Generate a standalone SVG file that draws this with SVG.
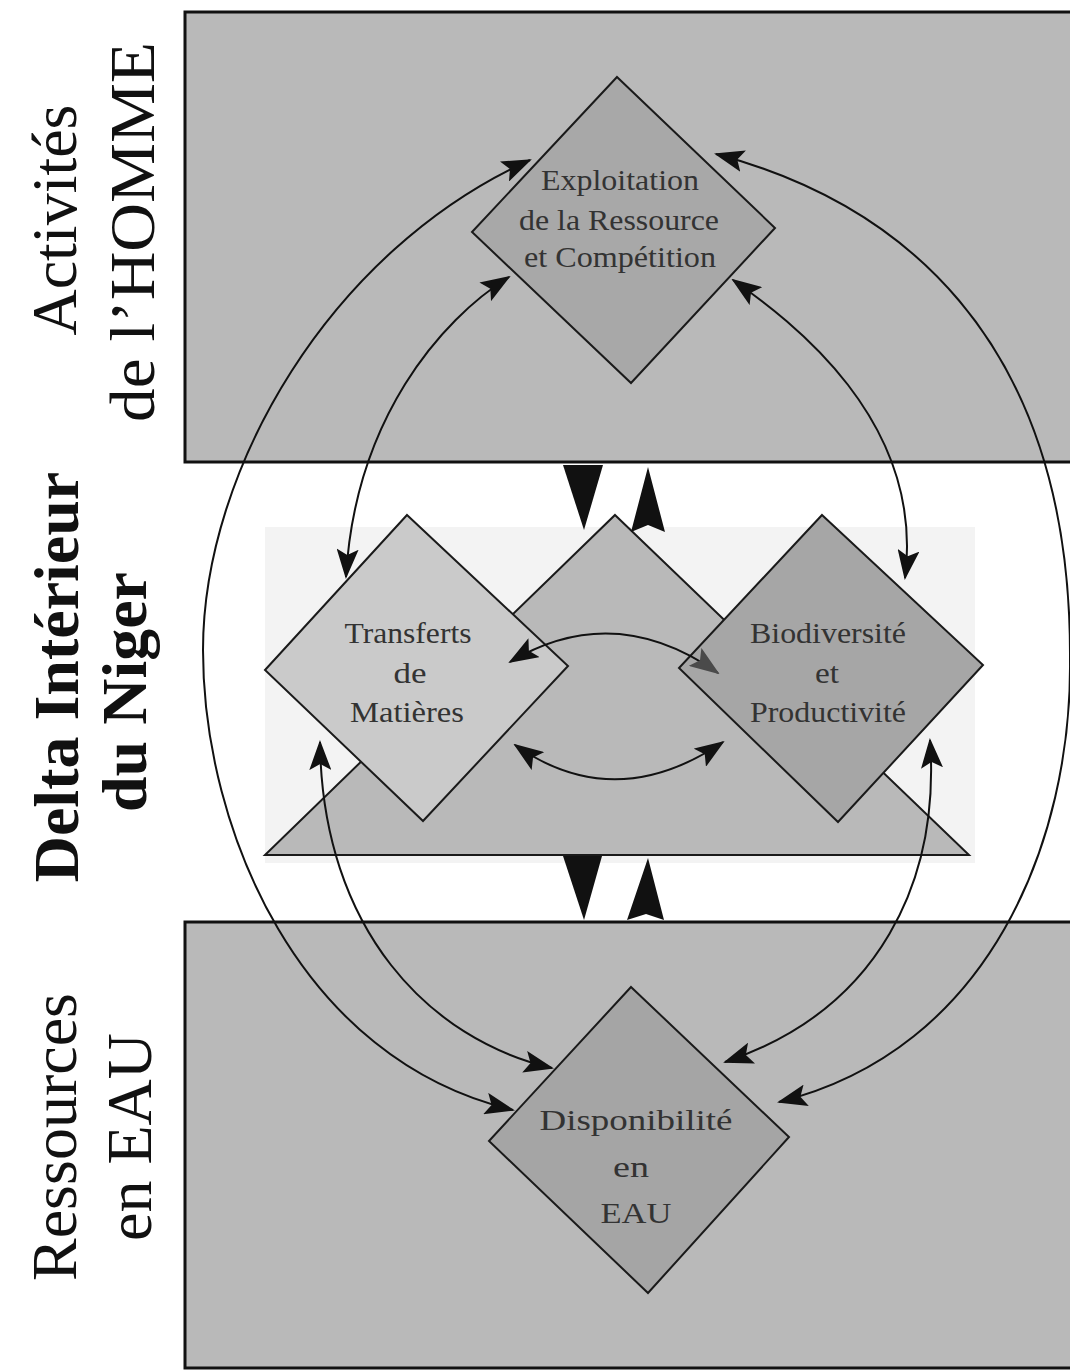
<svg xmlns="http://www.w3.org/2000/svg" width="1070" height="1372" viewBox="0 0 1070 1372">
<defs>
<marker id="ah" viewBox="0 0 30 22" refX="28" refY="11" markerWidth="30" markerHeight="22" markerUnits="userSpaceOnUse" orient="auto-start-reverse">
<path d="M0,0 L30,11 L0,22 L6,11 z" fill="#111"/>
</marker>
<marker id="ahg" viewBox="0 0 30 22" refX="28" refY="11" markerWidth="30" markerHeight="22" markerUnits="userSpaceOnUse" orient="auto-start-reverse">
<path d="M0,0 L30,11 L0,22 L6,11 z" fill="#4a4a4a"/>
</marker>
<style>
.panel{fill:#b9b9b9;stroke:#111;stroke-width:3}
.dia{stroke:#1a1a1a;stroke-width:2}
.lbl{font-family:"Liberation Serif","Times New Roman",serif;font-size:64px;fill:#111;text-anchor:middle}
.bold{font-weight:bold}
.nt{font-family:"Liberation Serif","Times New Roman",serif;font-size:30px;fill:#333;text-anchor:middle}
.con{fill:none;stroke:#111;stroke-width:2}
.big{fill:#111}
</style>
</defs>
<rect width="1070" height="1372" fill="#ffffff"/>

<g id="labels">
<text class="lbl" transform="translate(76,220) rotate(-90)">Activités</text>
<text class="lbl" transform="translate(154,232) rotate(-90)" textLength="380" lengthAdjust="spacingAndGlyphs">de l’HOMME</text>
<text class="lbl bold" transform="translate(78,677) rotate(-90)">Delta Intérieur</text>
<text class="lbl bold" transform="translate(146,692) rotate(-90)">du Niger</text>
<text class="lbl" transform="translate(76,1137) rotate(-90)">Ressources</text>
<text class="lbl" transform="translate(151,1137) rotate(-90)">en EAU</text>
</g>

<g id="panel-homme"><rect class="panel" x="185" y="12" width="900" height="450"/></g>
<g id="panel-eau"><rect class="panel" x="185" y="922" width="900" height="446"/></g>
<g id="panel-delta"><rect x="265" y="527" width="710" height="336" fill="#f3f3f3"/></g>

<g id="node-delta-triangle">
<polygon class="dia" points="615,515 969,855 265,855" fill="#b9b9b9"/>
</g>

<g id="node-exploitation">
<polygon class="dia" points="617,77 775,228 631,383 472,232" fill="#a8a8a8"/>
<text class="nt" x="620" y="190" textLength="158" lengthAdjust="spacingAndGlyphs" fill="#444">Exploitation</text>
<text class="nt" x="619" y="230" textLength="200" lengthAdjust="spacingAndGlyphs">de la Ressource</text>
<text class="nt" x="620" y="267" textLength="192" lengthAdjust="spacingAndGlyphs">et Compétition</text>
</g>

<g id="node-transferts">
<polygon class="dia" points="407,515 568,666 423,821 265,670" fill="#cacaca"/>
<text class="nt" x="408" y="643" textLength="127" lengthAdjust="spacingAndGlyphs">Transferts</text>
<text class="nt" x="410" y="683" textLength="33" lengthAdjust="spacingAndGlyphs">de</text>
<text class="nt" x="407" y="722" textLength="114" lengthAdjust="spacingAndGlyphs">Matières</text>
</g>

<g id="node-biodiversite">
<polygon class="dia" points="822,515 983,665 838,822 679,668" fill="#a6a6a6"/>
<text class="nt" x="828" y="643" textLength="156" lengthAdjust="spacingAndGlyphs">Biodiversité</text>
<text class="nt" x="827" y="683" textLength="24" lengthAdjust="spacingAndGlyphs">et</text>
<text class="nt" x="828" y="722" textLength="156" lengthAdjust="spacingAndGlyphs">Productivité</text>
</g>

<g id="node-disponibilite">
<polygon class="dia" points="631,987 789,1137 648,1293 489,1141" fill="#a5a5a5"/>
<text class="nt" x="636" y="1130" textLength="193" lengthAdjust="spacingAndGlyphs" fill="#222">Disponibilité</text>
<text class="nt" x="631" y="1177" textLength="36" lengthAdjust="spacingAndGlyphs" fill="#222">en</text>
<text class="nt" x="636" y="1223" textLength="71" lengthAdjust="spacingAndGlyphs" fill="#222">EAU</text>
</g>

<g id="connectors">
<path class="con" d="M530,160 C330,250 203,470 203,650 C203,830 300,1060 513,1110" marker-start="url(#ah)" marker-end="url(#ah)"/>
<path class="con" d="M509,277 C440,320 355,420 346,577" marker-start="url(#ah)" marker-end="url(#ah)"/>
<path class="con" d="M320,742 C322,930 430,1040 552,1068" marker-start="url(#ah)" marker-end="url(#ah)"/>
<path class="con" d="M716,154 C890,200 1072,330 1070,660 C1072,840 990,1050 779,1102" marker-start="url(#ah)" marker-end="url(#ah)"/>
<path class="con" d="M733,280 C790,320 925,420 905,578" marker-start="url(#ah)" marker-end="url(#ah)"/>
<path class="con" d="M930,740 C940,880 880,1010 725,1062" marker-start="url(#ah)" marker-end="url(#ah)"/>
<path class="con" d="M510,662 Q614,600 718,673" marker-start="url(#ah)" marker-end="url(#ahg)"/>
<path class="con" d="M515,745 Q615,815 723,742" marker-start="url(#ah)" marker-end="url(#ah)"/>
<polygon class="big" points="563,465 603,465 584,530"/>
<polygon class="big" points="648,467 665,532 648,525 631,532"/>
<polygon class="big" points="563,856 602,856 584,920"/>
<polygon class="big" points="648,858 664,920 646,914 627,920"/>
</g>
</svg>
